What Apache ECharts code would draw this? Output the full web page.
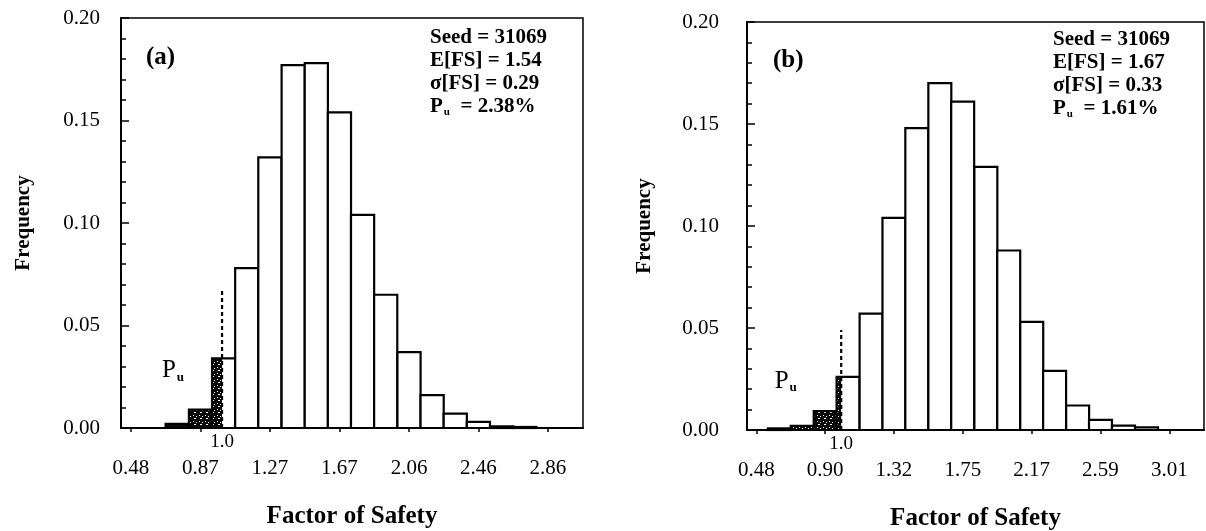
<!DOCTYPE html>
<html><head><meta charset="utf-8">
<script src="https://cdn.jsdelivr.net/npm/echarts@6/dist/echarts.min.js"></script>
<style>html,body{margin:0;padding:0;background:#fff}#c{width:1206px;height:531px}</style>
</head><body><div id="c"></div><script>
// ---------- data ----------
const binCentersA = [0.744, 0.877, 1.009, 1.141, 1.273, 1.406, 1.538, 1.670, 1.802, 1.934, 2.067, 2.199, 2.331, 2.463, 2.596, 2.728];
const freqA       = [0.002, 0.009, 0.034, 0.078, 0.132, 0.177, 0.178, 0.154, 0.104, 0.065, 0.037, 0.016, 0.007, 0.003, 0.0008, 0.0005];
const binWidthA   = 0.1322;
const tickValsA   = [0.48, 0.877, 1.273, 1.67, 2.067, 2.463, 2.86];
const tickLabelsA = ['0.48', '0.87', '1.27', '1.67', '2.06', '2.46', '2.86'];
const statsA      = ['Seed = 31069', 'E[FS] = 1.54', 'σ[FS] = 0.29', '2.38%'];
const puLineTopA  = 0.068;

const binCentersB = [0.621, 0.761, 0.902, 1.042, 1.183, 1.323, 1.463, 1.604, 1.744, 1.886, 2.026, 2.167, 2.307, 2.448, 2.588, 2.729, 2.870];
const freqB       = [0.0008, 0.002, 0.0093, 0.026, 0.057, 0.104, 0.148, 0.170, 0.161, 0.129, 0.088, 0.053, 0.029, 0.012, 0.005, 0.0021, 0.0013];
const binWidthB   = 0.1406;
const tickValsB   = [0.48, 0.902, 1.323, 1.745, 2.167, 2.588, 3.01];
const tickLabelsB = ['0.48', '0.90', '1.32', '1.75', '2.17', '2.59', '3.01'];
const statsB      = ['Seed = 31069', 'E[FS] = 1.67', 'σ[FS] = 0.33', '1.61%'];
const puLineTopB  = 0.049;

const failFS = 1.0;
const panelTags = ['(a)', '(b)'];

// ---------- styling ----------
const SERIF = '"Liberation Serif", "DejaVu Serif", serif';

function makeHatch() {
  const c = document.createElement('canvas');
  c.width = 6; c.height = 6;
  const g = c.getContext('2d');
  g.fillStyle = '#0a0a0a'; g.fillRect(0, 0, 6, 6);
  g.fillStyle = '#fff';
  g.fillRect(1, 1, 1, 1); g.fillRect(4, 2, 1, 1); g.fillRect(2, 4, 2, 1);
  return c;
}
const hatch = { image: makeHatch(), repeat: 'repeat' };

function renderBars(params, api) {
  const c = api.value(0), h = api.value(1), w = api.value(2);
  const x0 = c - w / 2, x1 = c + w / 2;
  const p0 = api.coord([x0, h]), p1 = api.coord([x1, 0]);
  const shape = { x: p0[0], y: p0[1], width: p1[0] - p0[0], height: p1[1] - p0[1] };
  const children = [{ type: 'rect', shape: shape, style: { fill: '#fff' } }];
  if (x0 < failFS) {
    const pc = api.coord([Math.min(x1, failFS), 0]);
    children.push({ type: 'rect', shape: { x: p0[0], y: p0[1], width: pc[0] - p0[0], height: p1[1] - p0[1] }, style: { fill: hatch } });
  }
  children.push({ type: 'rect', shape: shape, style: { fill: 'none', stroke: '#000', lineWidth: 2.2 } });
  return { type: 'group', children: children };
}

function xAxis(idx, min, max, vals, labels) {
  return {
    type: 'value', gridIndex: idx, min: min, max: max,
    axisLine: { show: true, onZero: false, lineStyle: { color: '#000', width: 2 } },
    axisTick: { show: true, length: 4, customValues: vals, lineStyle: { color: '#000', width: 1.5 } },
    axisLabel: {
      customValues: vals, margin: 30, color: '#000', fontFamily: SERIF, fontSize: 21,
      formatter: function (v) {
        let best = 0;
        vals.forEach(function (t, i) { if (Math.abs(t - v) < Math.abs(vals[best] - v)) best = i; });
        return labels[best];
      }
    },
    splitLine: { show: false },
    name: 'Factor of Safety', nameLocation: 'middle', nameGap: 76,
    nameTextStyle: { color: '#000', fontFamily: SERIF, fontSize: 25, fontWeight: 'bold' }
  };
}
function yAxis(idx, labelMargin, nameGap) {
  return {
    type: 'value', gridIndex: idx, min: 0, max: 0.2, interval: 0.05,
    axisLine: { show: true, lineStyle: { color: '#000', width: 2 } },
    axisTick: { show: true, inside: true, length: 8, lineStyle: { color: '#000', width: 1.5 } },
    minorTick: { show: true, splitNumber: 5, length: 5, lineStyle: { color: '#000', width: 1.5 } },
    splitLine: { show: false },
    axisLabel: { color: '#000', fontFamily: SERIF, fontSize: 21, margin: labelMargin, formatter: function (v) { return v.toFixed(2); } },
    name: 'Frequency', nameLocation: 'middle', nameGap: nameGap,
    nameTextStyle: { color: '#000', fontFamily: SERIF, fontSize: 21, fontWeight: 'bold' }
  };
}
function barSeries(idx, centers, freq, w) {
  return {
    type: 'custom', xAxisIndex: idx, yAxisIndex: idx, renderItem: renderBars,
    encode: { x: 0, y: 1 }, clip: false,
    data: centers.map(function (c, i) { return [c, freq[i], w]; })
  };
}
function pLineSeries(idx, top) {
  return {
    type: 'line', xAxisIndex: idx, yAxisIndex: idx, symbol: 'none', silent: true,
    data: [[failFS, 0], [failFS, top]],
    lineStyle: { color: '#000', width: 2.2, type: [4, 3] }, z: 5
  };
}
function labelSeries(idx, pu) {
  return [{
    type: 'scatter', xAxisIndex: idx, yAxisIndex: idx, symbolSize: 0, silent: true,
    itemStyle: { opacity: 1 },
    data: [[failFS, 0]],
    label: { show: true, position: 'bottom', distance: 5, formatter: '1.0', color: '#000', fontFamily: SERIF, fontSize: 19 }
  }, {
    type: 'scatter', xAxisIndex: idx, yAxisIndex: idx, symbolSize: 0, silent: true,
    itemStyle: { opacity: 1 },
    data: [pu],
    label: {
      show: true, position: 'inside', formatter: '{p|P}{u|u}', color: '#000',
      rich: {
        p: { fontFamily: SERIF, fontSize: 25, color: '#000' },
        u: { fontFamily: SERIF, fontSize: 13, color: '#000', fontWeight: 'bold', verticalAlign: 'bottom', padding: [14, 0, 0, 1] }
      }
    }
  }];
}
const puPosA = [0.72, 0.028];
const puPosB = [0.66, 0.024];

function statsGraphic(x, y0, lines, tag, tagX, tagY) {
  const out = [];
  const f = 'bold 21px ' + SERIF;
  for (let i = 0; i < 3; i++) {
    out.push({ type: 'text', x: x, y: y0 + i * 23, style: { text: lines[i], font: f, fill: '#000', verticalAlign: 'middle' } });
  }
  out.push({ type: 'text', x: x, y: y0 + 3 * 23, style: {
    text: '{b|P}{s|u}{b|  = ' + lines[3] + '}', verticalAlign: 'middle',
    rich: { b: { font: f, fill: '#000' }, s: { font: 'bold 11px ' + SERIF, fill: '#000', verticalAlign: 'bottom', padding: [11, 0, 0, 1] } }
  } });
  out.push({ type: 'text', x: tagX, y: tagY, style: { text: tag, font: 'bold 25px ' + SERIF, fill: '#000', verticalAlign: 'middle' } });
  return out;
}

const chart = echarts.init(document.getElementById('c'), null, { renderer: 'canvas' });
chart.setOption({
  animation: false,
  backgroundColor: '#fff',
  grid: [
    { left: 121, top: 18, width: 462, height: 410, show: true, borderColor: '#000', borderWidth: 1.5, backgroundColor: 'transparent', containLabel: false, outerBoundsMode: 'none' },
    { left: 747, top: 22, width: 457, height: 408, show: true, borderColor: '#000', borderWidth: 1.5, backgroundColor: 'transparent', containLabel: false, outerBoundsMode: 'none' }
  ],
  xAxis: [xAxis(0, 0.4233, 3.06, tickValsA, tickLabelsA), xAxis(1, 0.423, 3.222, tickValsB, tickLabelsB)],
  yAxis: [yAxis(0, 21, 87), yAxis(1, 28, 92)],
  series: [barSeries(0, binCentersA, freqA, binWidthA), pLineSeries(0, puLineTopA)]
    .concat(labelSeries(0, puPosA))
    .concat([barSeries(1, binCentersB, freqB, binWidthB), pLineSeries(1, puLineTopB)])
    .concat(labelSeries(1, puPosB)),
  graphic: statsGraphic(430, 38, statsA, panelTags[0], 146, 58)
    .concat(statsGraphic(1053, 40, statsB, panelTags[1], 773, 61))
});
</script></body></html>
